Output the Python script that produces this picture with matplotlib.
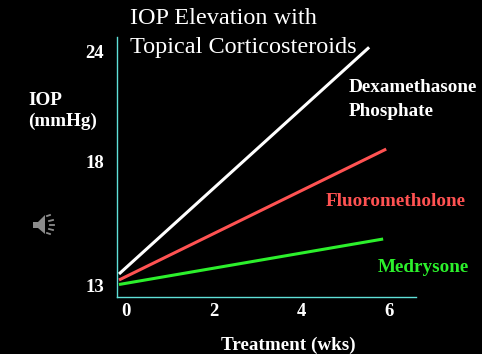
# -*- coding: utf-8 -*-
"""IOP elevation slide, black background, serif labels."""
import numpy as np
import matplotlib
matplotlib.use("Agg")
import matplotlib.pyplot as plt
from matplotlib.patches import Polygon

W, H = 482, 354

weeks_tick = [0, 2, 4, 6]
iop_tick = [13, 18, 24]

dexa_x = [-0.16, 5.55]
dexa_y = [13.48, 24.2]
fluoro_x = [-0.16, 5.94]
fluoro_y = [13.24, 18.65]
medry_x = [-0.16, 5.87]
medry_y = [13.06, 14.88]

# the slide's y axis is not even, so the ticks get their own spacing
Y_KNOTS = [12.58, 13, 18, 24, 24.76]
Y_POS = [0, 10.5, 135.5, 245.5, 259.5]

plt.rcParams["font.family"] = ["Liberation Serif", "DejaVu Serif"]

fig = plt.figure(figsize=(W / 100, H / 100), dpi=100, facecolor="black")
ax = fig.add_axes([116.5 / W, 1 - 296.5 / H, 299.5 / W, 259.5 / H], facecolor="black")
ax.set_yscale("function", functions=(lambda v: np.interp(v, Y_KNOTS, Y_POS),
                                     lambda p: np.interp(p, Y_POS, Y_KNOTS)))
ax.set_xlim(-0.217, 6.62)
ax.set_ylim(12.58, 24.76)

ax.plot(dexa_x, dexa_y, color="white", lw=2.2, solid_capstyle="butt")
ax.plot(fluoro_x, fluoro_y, color="#ff5252", lw=2.2, solid_capstyle="butt")
ax.plot(medry_x, medry_y, color="#2cf02c", lw=2.2, solid_capstyle="butt")

for s in ("top", "right"):
    ax.spines[s].set_visible(False)
for s in ("left", "bottom"):
    ax.spines[s].set_color("#5fe0d8")
    ax.spines[s].set_linewidth(1)

ax.set_xticks(weeks_tick, [str(v) for v in weeks_tick])
ax.set_yticks(iop_tick, [str(v) for v in iop_tick])
ax.minorticks_off()
ax.tick_params(axis="x", length=0, pad=5, labelsize=13.5, labelcolor="white")
ax.tick_params(axis="y", length=0, pad=9, labelsize=13.5, labelcolor="white")
for lb in ax.get_xticklabels() + ax.get_yticklabels():
    lb.set_fontweight("bold")


def label(px, py, txt, col="white", size=13.8, weight="bold", ha="left"):
    fig.text(px / W, 1 - py / H, txt, color=col, fontsize=size, fontweight=weight,
             ha=ha, va="center")


label(130, 18, "IOP Elevation with", size=17.5, weight="normal")
label(130, 47, "Topical Corticosteroids", size=17.5, weight="normal")
label(28, 100, "IOP")
label(28, 121, "(mmHg)")
label(349, 88, "Dexamethasone")
label(349, 112, "Phosphate")
label(326, 201, "Fluorometholone", col="#ff5252")
label(378, 268, "Medrysone", col="#2cf02c")
label(221, 345, "Treatment (wks)")

# speaker icon
def px_pts(pts):
    return [(x / W, 1 - y / H) for x, y in pts]


fig.add_artist(Polygon(px_pts([(33, 222), (38, 222), (45, 215), (45, 234), (38, 228), (33, 228)]),
                       closed=True, fc="#8c8c8c", ec="none", transform=fig.transFigure))
for x0, y0, x1, y1 in [(47, 216, 50, 215), (49, 221, 53, 220), (50, 225, 54, 225),
                       (49, 229, 53, 230), (47, 233, 50, 234)]:
    fig.add_artist(plt.Line2D([x0 / W, x1 / W], [1 - y0 / H, 1 - y1 / H],
                              color="#8c8c8c", lw=1.3, transform=fig.transFigure))

fig.savefig("out.png", dpi=100, facecolor="black")
